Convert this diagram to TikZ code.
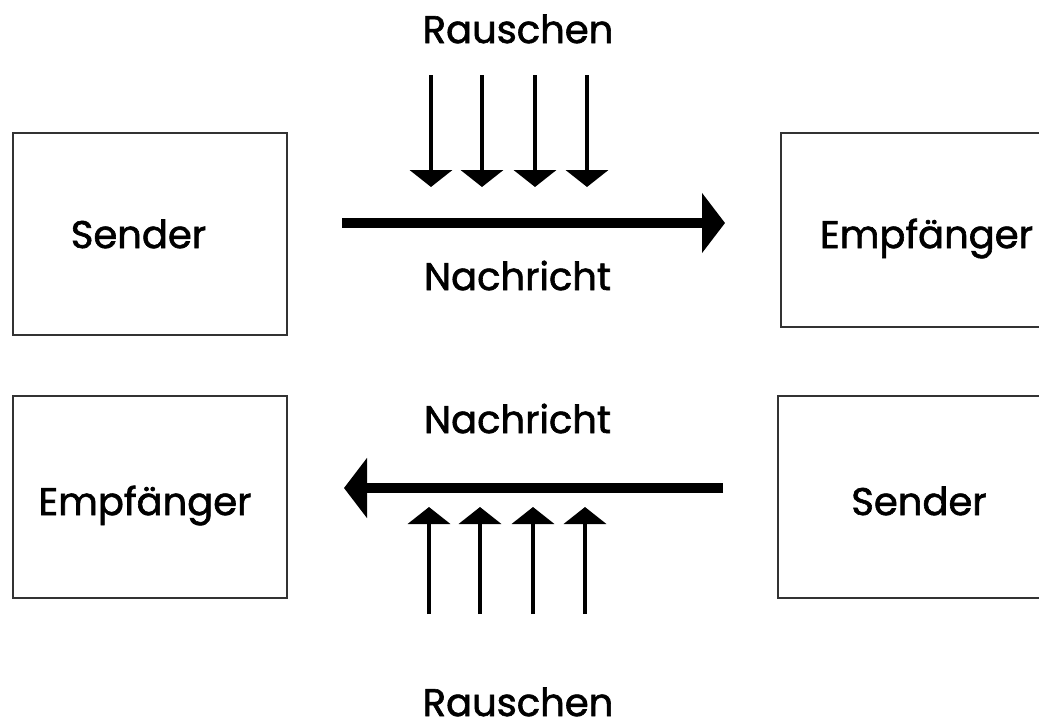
\documentclass[tikz,border=0pt]{standalone}
\usepackage{fontspec}
\setmainfont{Poppins}[FakeBold=1.6]
\usetikzlibrary{arrows.meta}
\begin{document}
\begin{tikzpicture}[x=1pt,y=-1pt,
  box/.style={draw=black!80,line width=2pt,inner sep=0pt},
  lbl/.style={anchor=base,inner sep=0pt,text depth=0pt,font=\fontsize{38.5}{40}\selectfont},
  mainarrow/.style={line width=10pt,-{Triangle[length=23pt,width=59pt]}},
  noisearrow/.style={line width=4.5pt,-{Triangle[length=17pt,width=42pt]}}]
\clip (0,0) rectangle (1039,724);
\fill[white] (0,0) rectangle (1039,724);
% boxes
\draw[box] (13,133) rectangle (287,335);
\draw[box] (781,133) rectangle (1060,327);
\draw[box] (13,396) rectangle (287,598);
\draw[box] (778,396) rectangle (1060,598);
\node[lbl] (s1) at (138.5,248) {Sender};
\node[lbl] (e1) at (926.5,248) {Empfänger};
\node[lbl] (e2) at (145,515) {Empfänger};
\node[lbl] (s2) at (919,515) {Sender};
\node[lbl] (r1) at (518,43) {Rauschen};
\node[lbl] (n1) at (517.5,290) {Nachricht};
\node[lbl] (n2) at (517.5,433) {Nachricht};
\node[lbl] (r2) at (518,716) {Rauschen};
% main arrows
\coordinate (a1s) at (342,223); \coordinate (a1e) at (725,223);
\coordinate (a2s) at (723,488); \coordinate (a2e) at (344,488);
\draw[mainarrow] (a1s) -- (a1e);
\draw[mainarrow] (a2s) -- (a2e);
% noise arrows
\foreach \i/\x in {1/431,2/482,3/535,4/587}{
  \coordinate (t\i s) at (\x,75); \coordinate (t\i e) at (\x,187);
  \draw[noisearrow] (t\i s) -- (t\i e);
}
\foreach \i/\x in {1/429,2/480,3/533,4/585}{
  \coordinate (b\i s) at (\x,614); \coordinate (b\i e) at (\x,507);
  \draw[noisearrow] (b\i s) -- (b\i e);
}
\end{tikzpicture}
\end{document}
